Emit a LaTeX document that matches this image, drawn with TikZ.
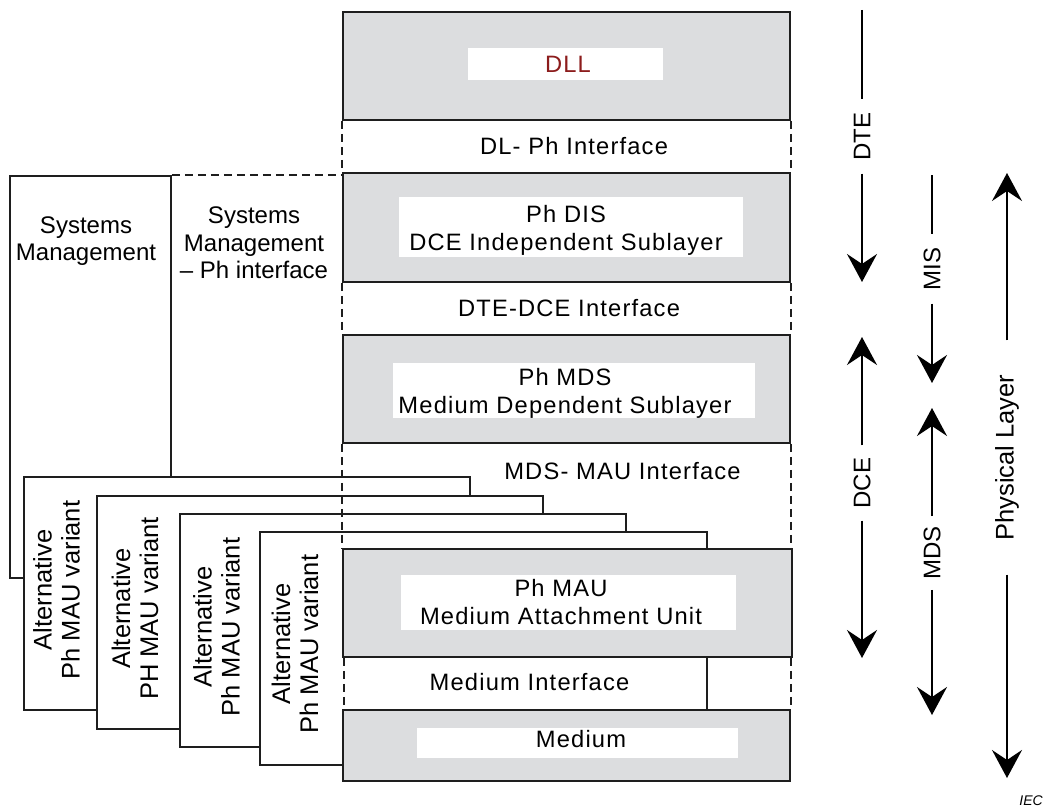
\documentclass[tikz,border=0pt]{standalone}
\usepackage{fontspec}
\setmainfont{Liberation Sans}
\newfontfamily\spacedfont{Liberation Sans}[LetterSpace=5]
\usetikzlibrary{arrows.meta}
\definecolor{boxgray}{RGB}{220,221,223}
\definecolor{dllred}{RGB}{140,28,28}
\definecolor{linec}{RGB}{30,30,30}
\begin{document}
\begin{tikzpicture}[x=1pt,y=-1pt,
  graybox/.style={draw=linec, fill=boxgray, line width=1.8pt, inner sep=0pt},
  whitebox/.style={draw=linec, fill=white, line width=1.8pt, inner sep=0pt},
  labelbox/.style={fill=white, draw=none, inner sep=0pt},
  maintext/.style={font=\spacedfont\fontsize{23.7}{28}\selectfont, inner sep=0pt, align=center},
  sidetext/.style={font=\fontsize{24}{27.5}\selectfont, inner sep=0pt, align=center},
  alttext/.style={font=\fontsize{25.5}{28}\selectfont, inner sep=0pt, align=center, rotate=90},
  dimtext/.style={font=\fontsize{24}{24}\selectfont, rotate=90, inner ysep=0pt},
  ifline/.style={draw=linec, line width=1.6pt, dash pattern=on 8pt off 5pt},
  plainline/.style={draw=black, line width=1.8pt},
  arr/.style={draw=black, line width=1.8pt, -{Stealth[length=28pt,width=30pt,inset=10pt]}},
]
\useasboundingbox (0,0) rectangle (1045,808);

% Systems management box
\node[whitebox, minimum width=161pt, minimum height=402pt] (sys) at (90.5,377) {};
\node[sidetext] (sysT) at (86,241) {Systems\\Management};
\node[sidetext] (sysifT) at (254,243) {Systems\\Management\\-- Ph interface};

% alternative MAU variants
\node[whitebox, minimum width=446pt, minimum height=233pt] (alt1) at (247,593.5) {};
\node[alttext] (alt1T) at (56.5,590) {Alternative\\Ph MAU variant};
\node[whitebox, minimum width=446pt, minimum height=233pt] (alt2) at (320,612.5) {};
\node[alttext] (alt2T) at (135,608.5) {Alternative\\PH MAU variant};
\node[whitebox, minimum width=446pt, minimum height=233pt] (alt3) at (403,630.5) {};
\node[alttext] (alt3T) at (216.5,627) {Alternative\\Ph MAU variant};
\node[whitebox, minimum width=447pt, minimum height=233pt] (alt4) at (483.5,648.5) {};
\node[alttext] (alt4T) at (295,644) {Alternative\\Ph MAU variant};

% main column
\node[graybox, minimum width=447pt, minimum height=108pt] (dll) at (566.5,66) {};
\node[labelbox, minimum width=195pt, minimum height=32pt] (dllL) at (565.5,64) {};
\node[maintext, anchor=base, text=dllred] (dllT) at (568,73) {DLL};

\node[graybox, minimum width=447pt, minimum height=109pt] (dis) at (566.5,227.5) {};
\node[labelbox, minimum width=344pt, minimum height=60pt] (disL) at (571,227) {};
\node[maintext] (disT) at (566,230) {Ph DIS\\DCE Independent Sublayer};

\node[graybox, minimum width=447pt, minimum height=108pt] (mds) at (566.5,389) {};
\node[labelbox, minimum width=362pt, minimum height=55pt] (mdsL) at (574,390.5) {};
\node[maintext] (mdsT) at (565,393.6) {Ph MDS\\Medium Dependent Sublayer};

\node[graybox, minimum width=449pt, minimum height=108pt] (mau) at (567.5,603) {};
\node[labelbox, minimum width=335pt, minimum height=55pt] (mauL) at (568.5,602.5) {};
\node[maintext] (mauT) at (561,602.1) {Ph MAU\\Medium Attachment Unit};

\node[graybox, minimum width=447pt, minimum height=71pt] (med) at (566.5,745.5) {};
\node[labelbox, minimum width=321pt, minimum height=30pt] (medL) at (577.5,743) {};
\node[maintext, anchor=base] (medT) at (581,747) {Medium};

% interface dashed sides
\draw[ifline] (sys.north east) -- (sys.north east -| dis.west);
\draw[ifline] (dll.south west) -- (dis.north west);
\draw[ifline] (dll.south east) -- (dis.north east);
\draw[ifline] (dis.south west) -- (mds.north west);
\draw[ifline] (dis.south east) -- (mds.north east);
\draw[ifline] (mds.south west) -- (mds.south west |- mau.north);
\draw[ifline] (mds.south east) -- (mds.south east |- mau.north);
\draw[ifline] ([xshift=2pt]mau.south west) -- ([xshift=2pt]mau.south west |- med.north);
\draw[ifline] (med.north east |- mau.south) -- (med.north east);

% interface texts
\node[maintext, anchor=base] (ifDLPh) at (574,154) {DL- Ph Interface};
\node[maintext, anchor=base] (ifDTEDCE) at (569,316) {DTE-DCE Interface};
\node[maintext, anchor=base] (ifMDSMAU) at (622.5,479) {MDS- MAU Interface};
\node[maintext, anchor=base] (ifMed) at (529.5,690) {Medium Interface};

% right-hand range arrows
\coordinate (dteA) at (862,10);
\node[dimtext, inner xsep=13pt] (dte) at (862,136.5) {DTE};
\coordinate (dteB) at (862,282);
\draw[plainline] (dteA) -- (dte);
\draw[arr] (dte) -- (dteB);

\coordinate (dceA) at (862,337);
\node[dimtext, inner xsep=12pt] (dce) at (862,483) {DCE};
\coordinate (dceB) at (862,658);
\draw[arr] (dce) -- (dceA);
\draw[arr] (dce) -- (dceB);

\coordinate (misA) at (932,175);
\node[dimtext, inner xsep=13pt] (mis) at (932,269) {MIS};
\coordinate (misB) at (932,383);
\draw[plainline] (misA) -- (mis);
\draw[arr] (mis) -- (misB);

\coordinate (mdsA) at (932,408);
\node[dimtext, inner xsep=10pt] (mdsR) at (932,553) {MDS};
\coordinate (mdsB) at (932,715);
\draw[arr] (mdsR) -- (mdsA);
\draw[arr] (mdsR) -- (mdsB);

\coordinate (phA) at (1007,173);
\node[dimtext, font=\fontsize{25.5}{25.5}\selectfont, inner xsep=34pt] (phys) at (1007,457.5) {Physical Layer};
\coordinate (phB) at (1007,778);
\draw[arr] (phys) -- (phA);
\draw[arr] (phys) -- (phB);

\node[font=\itshape\fontsize{14}{14}\selectfont, anchor=base east, inner sep=0pt] (iec) at (1043,805) {IEC};
\end{tikzpicture}
\end{document}
